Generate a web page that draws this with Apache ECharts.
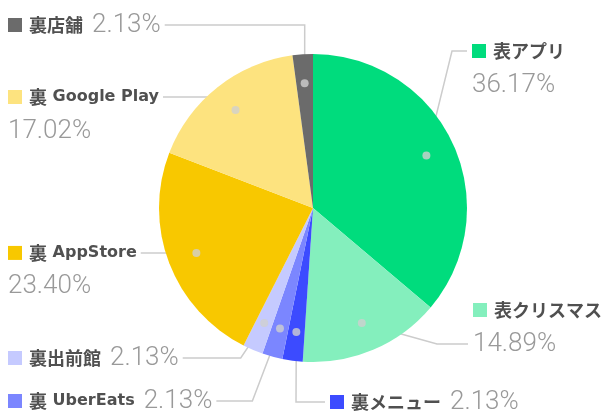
<!DOCTYPE html>
<html>
<head>
<meta charset="utf-8">
<script src="https://cdn.jsdelivr.net/npm/echarts@6/dist/echarts.min.js"></script>
<style>
html, body { margin: 0; padding: 0; background: #fff; }
#chart { width: 605px; height: 415px; }
</style>
</head>
<body>
<div id="chart"></div>
<script>
// データ
var names = ['表アプリ', '表クリスマス', '裏メニュー', '裏 UberEats', '裏出前館', '裏 AppStore', '裏 Google Play', '裏店舗'];
var counts = [17, 7, 1, 1, 1, 11, 8, 1];
var colors = ['#00dc7d', '#84efbd', '#3c4bff', '#7b86ff', '#c5caff', '#f8c800', '#fde37f', '#6b6b6b'];
var twoLine = [true, true, false, false, false, true, true, false];

// ラベルの置き場所 (side, 文字のx, 線のy, 水平線の長さ)
var labelPos = [
	{side: 'r', x: 472, y: 51, run: 15},
	{side: 'r', x: 473, y: 344, run: 31, attach: 1},
	{side: 'r', x: 330, y: 402, run: 29},
	{side: 'l', x: 8, y: 401, run: 36},
	{side: 'l', x: 8, y: 358, run: 58},
	{side: 'l', x: 8, y: null, run: 0},
	{side: 'l', x: 8, y: 97, run: 69},
	{side: 'l', x: 8, y: 25, run: 140}
];

var CX = 313, CY = 208, R = 154, R_DOT = 125, LH = 34;

var total = 0;
for (var i = 0; i < counts.length; i++) total += counts[i];

var pieData = [];
var dotData = [];
var acc = 0;
for (var i = 0; i < counts.length; i++) {
	pieData.push({name: names[i], value: counts[i], itemStyle: {color: colors[i]}});
	dotData.push([R_DOT, acc + counts[i] / 2]);
	acc += counts[i];
}

var rich = {
	n: {fontSize: 18, fontWeight: 'bold', color: '#505050', lineHeight: LH, fontFamily: "'Noto Sans CJK JP', sans-serif"},
	nl: {fontSize: 16, fontWeight: 'bold', color: '#505050', lineHeight: LH, fontFamily: "'DejaVu Sans', sans-serif"},
	p: {fontSize: 26, fontWeight: 300, color: '#999999', lineHeight: LH, fontFamily: 'Roboto, sans-serif'},
	s: {width: 7},
	g: {width: 9}
};
for (var i = 0; i < colors.length; i++) {
	rich['m' + i] = {width: 14, height: 14, backgroundColor: colors[i]};
}

// 漢字とラテン文字で書体を分ける
function nameRich(name) {
	var parts = name.split(/([\x00-\x7F]+)/);
	var out = '';
	for (var k = 0; k < parts.length; k++) {
		if (!parts[k]) continue;
		out += (/^[\x00-\x7F]+$/.test(parts[k]) ? '{nl|' : '{n|') + parts[k] + '}';
	}
	return out;
}

var myChart = echarts.init(document.getElementById('chart'));
var option = {
	animation: false,
	polar: {center: [CX, CY], radius: R},
	angleAxis: {type: 'value', min: 0, max: total, startAngle: 90, clockwise: true, show: false},
	radiusAxis: {type: 'value', min: 0, max: R, show: false},
	series: [{
		type: 'pie',
		center: [CX, CY],
		radius: R,
		startAngle: 90,
		label: {show: false},
		labelLine: {show: false},
		silent: true,
		data: pieData
	}, {
		// ラベル用の透明な円
		type: 'pie',
		center: [CX, CY],
		radius: R_DOT,
		startAngle: 90,
		silent: true,
		itemStyle: {color: 'transparent'},
		data: pieData.map(function (d) { return {name: d.name, value: d.value}; }),
		label: {
			show: true,
			bleedMargin: 0,
			formatter: function (p) {
				var i = p.dataIndex;
				var pct = p.percent.toFixed(2) + '%';
				return '{m' + i + '|}{s|}' + nameRich(p.name) + (twoLine[i] ? '\n' : '{g|}') + '{p|' + pct + '}';
			},
			rich: rich
		},
		labelLine: {show: true, length: 8, length2: 8, lineStyle: {color: '#cccccc', width: 1.5}},
		labelLayout: function (p) {
			var L = labelPos[p.dataIndex];
			var s = p.labelLinePoints[0];
			var ly = L.y == null ? s[1] : L.y;
			var top = ly - LH / 2 - (L.attach ? LH : 0);
			var endX = L.side === 'l' ? L.x + p.labelRect.width + 4 : L.x - 5;
			var elbowX = L.side === 'l' ? endX + L.run : endX - L.run;
			if (L.run === 0) elbowX = s[0];
			return {
				x: L.x,
				y: top,
				align: 'left',
				verticalAlign: 'top',
				labelLinePoints: [s, [elbowX, ly], [endX, ly]]
			};
		}
	}, {
		type: 'scatter',
		coordinateSystem: 'polar',
		symbol: 'circle',
		symbolSize: 8,
		silent: true,
		itemStyle: {color: '#cfcfcf'},
		z: 5,
		data: dotData
	}]
};
myChart.setOption(option);
</script>
</body>
</html>
